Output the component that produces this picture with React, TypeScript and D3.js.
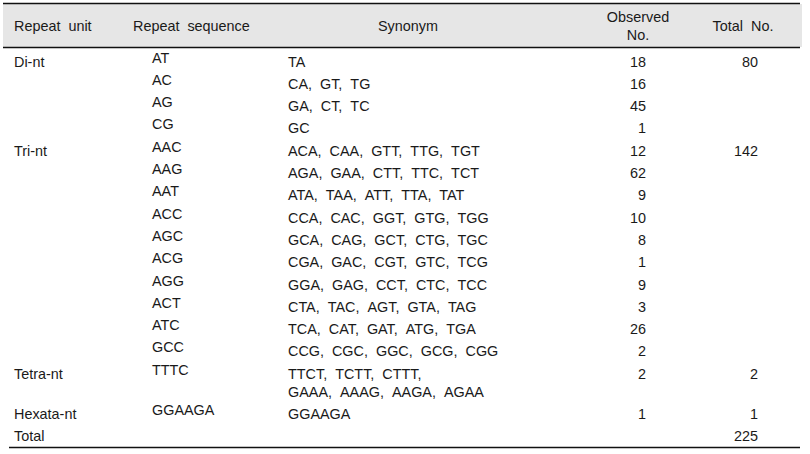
import React from "react";
import * as d3 from "d3";

const repeatUnits = ["Di-nt", "Tri-nt", "Tetra-nt", "Hexata-nt"];
const unitTotals = [80, 142, 2, 1];
const grandTotal = 225;
const sequences = ["AT", "AC", "AG", "CG", "AAC", "AAG", "AAT", "ACC", "AGC", "ACG", "AGG", "ACT", "ATC", "GCC", "TTTC", "GGAAGA"];
const unitOfSequence = [0, 0, 0, 0, 1, 1, 1, 1, 1, 1, 1, 1, 1, 1, 2, 3];
const synonyms: string[][] = [
  ["TA"],
  ["CA,  GT,  TG"],
  ["GA,  CT,  TC"],
  ["GC"],
  ["ACA,  CAA,  GTT,  TTG,  TGT"],
  ["AGA,  GAA,  CTT,  TTC,  TCT"],
  ["ATA,  TAA,  ATT,  TTA,  TAT"],
  ["CCA,  CAC,  GGT,  GTG,  TGG"],
  ["GCA,  CAG,  GCT,  CTG,  TGC"],
  ["CGA,  GAC,  CGT,  GTC,  TCG"],
  ["GGA,  GAG,  CCT,  CTC,  TCC"],
  ["CTA,  TAC,  AGT,  GTA,  TAG"],
  ["TCA,  CAT,  GAT,  ATG,  TGA"],
  ["CCG,  CGC,  GGC,  GCG,  CGG"],
  ["TTCT,  TCTT,  CTTT,", "GAAA,  AAAG,  AAGA,  AGAA"],
  ["GGAAGA"],
];
const observed = [18, 16, 45, 1, 12, 62, 9, 10, 8, 1, 9, 3, 26, 2, 2, 1];
const headers = ["Repeat  unit", "Repeat  sequence", "Synonym", "Observed|No.", "Total  No."];

const keepSpaces = (s: string) => s.replace(/  /g, " \u00a0");

export default function App() {
  const W = 810, H = 454;
  const pitch = 22.3;
  const lineH = 18;
  const rowY = d3.scaleLinear().domain([0, 1]).range([61.5, 61.5 + pitch]);
  const centers: number[] = [];
  let extra = 0;
  sequences.forEach((_, i) => {
    centers.push(rowY(i) + extra);
    extra += (synonyms[i].length - 1) * lineH;
  });
  const totalY = rowY(sequences.length) + extra;

  const font = "'Liberation Sans', Arial, sans-serif";
  const fs = 14.4;
  const color = "#1a1a1a";
  const colX = { unit: 14, seq: 152, syn: 288, obs: 646, tot: 758 };

  const firstOfUnit = repeatUnits.map((_, u) => unitOfSequence.indexOf(u));

  return (
    <svg width={W} height={H} style={{ position: "absolute", left: 0, top: 0, background: "#fff" }}>
      <rect x={3} y={4} width={799} height={43} fill="#e6e6e6" />
      <line x1={3} x2={800} y1={3.5} y2={3.5} stroke="#111" strokeWidth={1.5} />
      <line x1={3} x2={800} y1={47.5} y2={47.5} stroke="#111" strokeWidth={1.5} />
      <line x1={9} x2={800} y1={447.5} y2={447.5} stroke="#111" strokeWidth={1.5} />
      <g fontFamily={font} fontSize={fs} fill={color}>
        <text x={14} y={26} dy="0.35em">{keepSpaces(headers[0])}</text>
        <text x={133} y={26} dy="0.35em">{keepSpaces(headers[1])}</text>
        <text x={408} y={26} dy="0.35em" textAnchor="middle">{headers[2]}</text>
        <text x={638} y={17} dy="0.35em" textAnchor="middle">{headers[3].split("|")[0]}</text>
        <text x={638} y={35} dy="0.35em" textAnchor="middle">{headers[3].split("|")[1]}</text>
        <text x={743} y={26} dy="0.35em" textAnchor="middle">{keepSpaces(headers[4])}</text>

        {repeatUnits.map((u, k) => (
          <g key={u}>
            <text x={colX.unit} y={centers[firstOfUnit[k]]} dy="0.35em">{u}</text>
            <text x={colX.tot} y={centers[firstOfUnit[k]]} dy="0.35em" textAnchor="end">{unitTotals[k]}</text>
          </g>
        ))}
        {sequences.map((s, i) => (
          <g key={s}>
            <text x={colX.seq} y={centers[i] - 4} dy="0.35em">{s}</text>
            {synonyms[i].map((line, j) => (
              <text key={j} x={colX.syn} y={centers[i] + j * lineH} dy="0.35em">{keepSpaces(line)}</text>
            ))}
            <text x={colX.obs} y={centers[i]} dy="0.35em" textAnchor="end">{observed[i]}</text>
          </g>
        ))}
        <text x={colX.unit} y={totalY} dy="0.35em">Total</text>
        <text x={colX.tot} y={totalY} dy="0.35em" textAnchor="end">{grandTotal}</text>
      </g>
    </svg>
  );
}
